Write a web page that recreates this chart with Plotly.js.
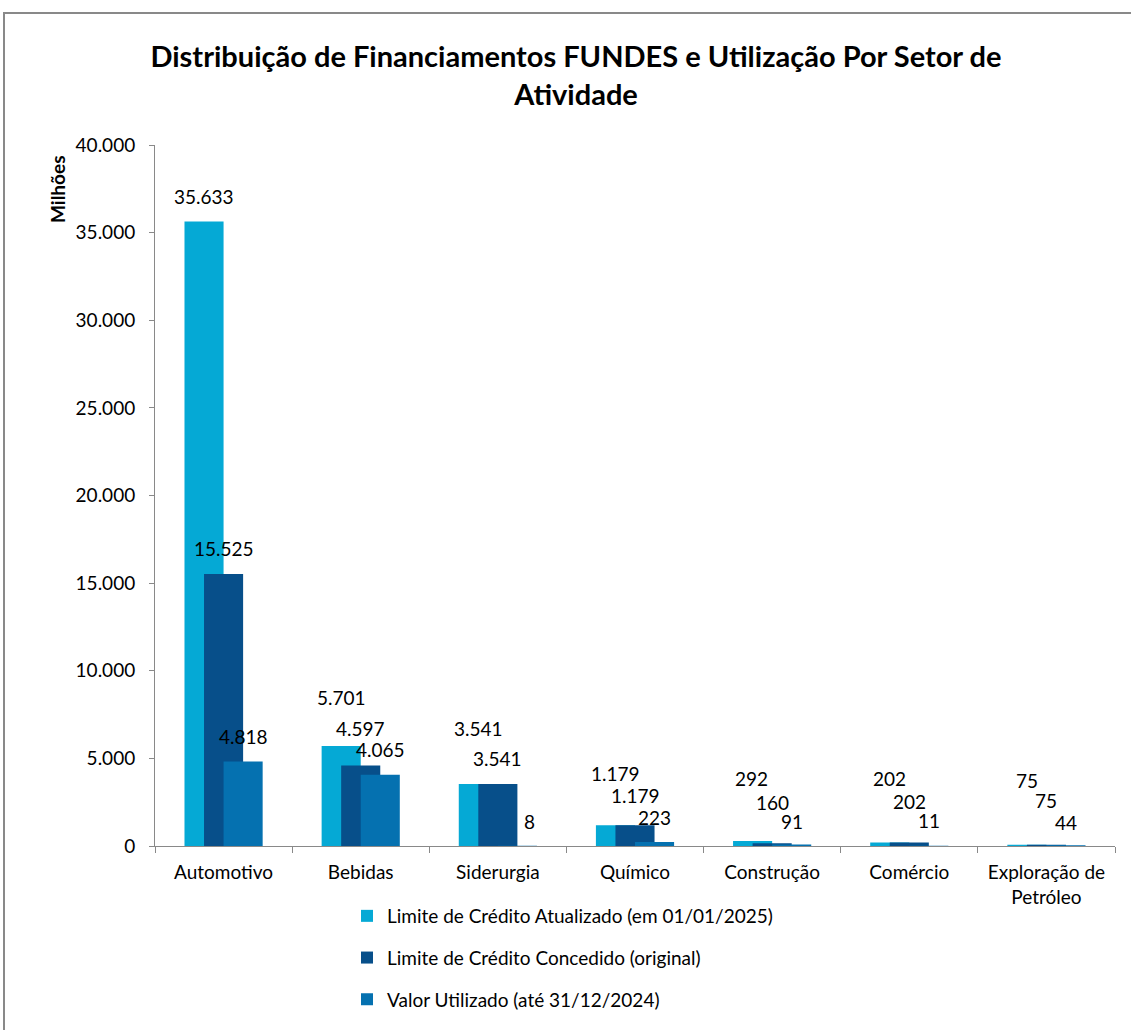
<!DOCTYPE html>
<html>
<head>
<meta charset="utf-8">
<script src="https://cdn.plot.ly/plotly-3.0.1.min.js"></script>
<style>
html,body{margin:0;padding:0;background:#fff;}
#chart{width:1131px;height:1030px;}
</style>
</head>
<body>
<div id="chart"></div>
<script>
const categories = ["Automotivo", "Bebidas", "Siderurgia", "Químico", "Construção", "Comércio", "Exploração de<br>Petróleo"];
const seriesNames = ["Limite de Crédito Atualizado (em 01/01/2025)", "Limite de Crédito Concedido (original)", "Valor Utilizado (até 31/12/2024)"];
const limiteAtualizado = [35633, 5701, 3541, 1179, 292, 202, 75];
const limiteConcedido = [15525, 4597, 3541, 1179, 160, 202, 75];
const valorUtilizado = [4818, 4065, 8, 223, 91, 11, 44];

// styles (label placement tweaks, in pixels)
const colors = ["#05A9D5", "#074F8A", "#0571B0"];
const labelLift = [
  [25, 49, 55, 52, 62, 64, 64],
  [25, 37, 25, 30, 41, 41, 44],
  [25, 25, 24, 25, 23, 25, 23]
];
const labelNudge = [
  [0, 0, 0, 0, -1, 0, 0],
  [0, 0, 0, 0, 0, 0, 0],
  [0, 0, 12, 0, 0, 0, 0]
];

const allSeries = [limiteAtualizado, limiteConcedido, valorUtilizado];
const barW = 0.285;
const offsets = [-barW, -barW / 2, 0];
const catPx = 960 / categories.length;
const FONT = "Lato, sans-serif";

function fmt(v) {
  return String(Math.round(v)).replace(/\B(?=(\d{3})+(?!\d))/g, ".");
}

const traces = allSeries.map((vals, i) => ({
  type: "bar",
  name: seriesNames[i],
  x: categories,
  y: vals,
  width: categories.map(() => barW),
  offset: categories.map(() => offsets[i]),
  marker: {color: colors[i], line: {width: 0}},
  legendgroup: "g" + i,
  hoverinfo: "x+y"
}));

const annotations = [];
allSeries.forEach((vals, i) => {
  vals.forEach((v, j) => {
    annotations.push({
      x: categories[j], y: v, xref: "x", yref: "y",
      text: fmt(v), showarrow: false,
      xanchor: "center", yanchor: "middle",
      xshift: (offsets[i] + barW / 2) * catPx + labelNudge[i][j],
      yshift: labelLift[i][j],
      borderpad: 0,
      font: {family: FONT, size: 19, color: "#000"}
    });
  });
});

annotations.push({
  text: "<b>Milhões</b>", textangle: -90, showarrow: false,
  xref: "paper", yref: "paper",
  x: (57 - 155) / 960, y: (846 - 189) / 701,
  xanchor: "center", yanchor: "middle",
  font: {family: FONT, size: 19, color: "#000"}
});

const layout = {
  width: 1131, height: 1030,
  margin: {l: 155, r: 16, t: 145, b: 184, autoexpand: false},
  paper_bgcolor: "#fff", plot_bgcolor: "#fff",
  separators: ",.",
  barmode: "overlay",
  showlegend: true,
  title: {
    text: "<b>Distribuição de Financiamentos FUNDES e Utilização Por Setor de<br>Atividade</b>",
    font: {family: FONT, size: 29, color: "#000"},
    xref: "container", yref: "container",
    x: 576 / 1131, xanchor: "center",
    y: 1 - 67 / 1030, yanchor: "middle"
  },
  font: {family: FONT, size: 19, color: "#000"},
  xaxis: {
    type: "category",
    showline: true, linecolor: "#898989", linewidth: 1,
    ticks: "outside", tickson: "boundaries", ticklen: 6, tickcolor: "#898989",
    showgrid: false, zeroline: false,
    tickfont: {family: FONT, size: 19, color: "#000"},
    ticklabelstandoff: 9
  },
  yaxis: {
    range: [0, 40000],
    tickvals: [0, 5000, 10000, 15000, 20000, 25000, 30000, 35000, 40000],
    tickformat: ",d",
    showline: true, linecolor: "#898989", linewidth: 1,
    ticks: "outside", ticklen: 5, tickcolor: "#898989",
    showgrid: false, zeroline: false,
    tickfont: {family: FONT, size: 19, color: "#000"},
    ticklabelstandoff: 10
  },
  legend: {
    orientation: "v",
    x: (347 - 155) / 960, xanchor: "left",
    y: (846 - 897) / 701, yanchor: "top",
    tracegroupgap: 14,
    font: {family: FONT, size: 19, color: "#000"},
    bgcolor: "rgba(0,0,0,0)"
  },
  annotations: annotations,
  shapes: [{
    type: "rect", xref: "paper", yref: "paper",
    x0: (4 - 155) / 960, x1: 1.2,
    y0: -0.5, y1: (846 - 13) / 701,
    line: {color: "#898989", width: 2},
    fillcolor: "rgba(0,0,0,0)", layer: "below"
  }]
};

Plotly.newPlot("chart", traces, layout, {displayModeBar: false, staticPlot: true});
</script>
</body>
</html>
